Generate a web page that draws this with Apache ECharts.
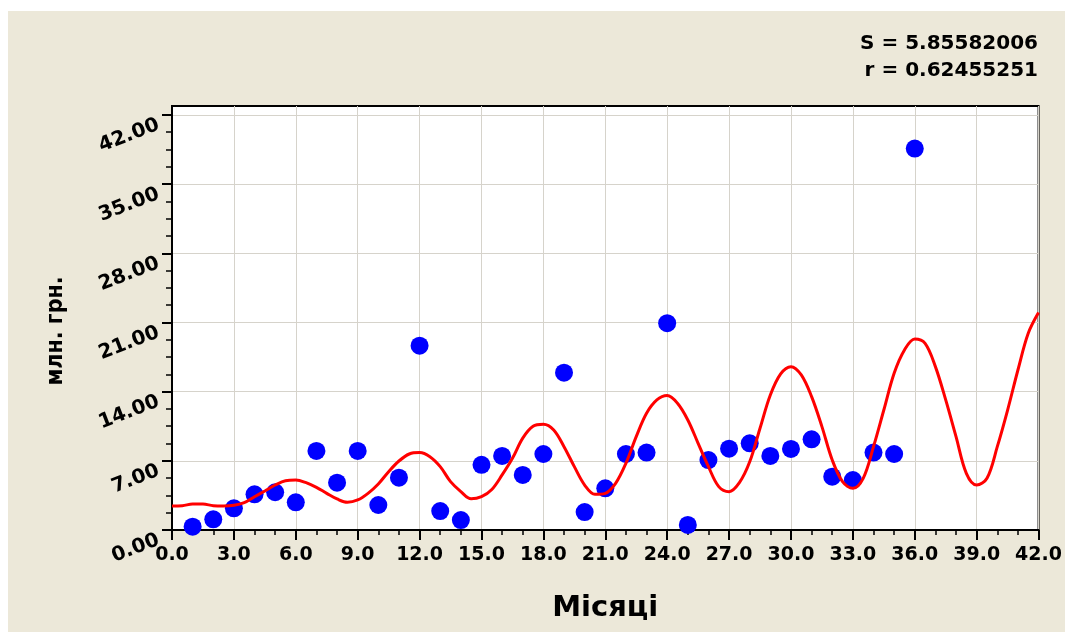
<!DOCTYPE html>
<html>
<head>
<meta charset="utf-8">
<script src="https://cdn.jsdelivr.net/npm/echarts@6/dist/echarts.min.js"></script>
<style>
html,body{margin:0;padding:0;background:#ffffff;}
#chart{position:absolute;left:8px;top:11px;width:1057px;height:621px;background:#ece8d9;}
</style>
</head>
<body>
<div id="chart"></div>
<script>
// Observed data: monthly values (млн. грн.)
const months = [1,2,3,4,5,6,7,8,9,10,11,12,13,14,15,16,17,18,19,20,21,22,23,24,25,26,27,28,29,30,31,32,33,34,35,36];
const sales = [0.33,1.08,2.19,3.61,3.82,2.80,8.00,4.79,8.00,2.53,5.29,18.65,1.92,1.01,6.60,7.49,5.57,7.69,15.92,1.82,4.22,7.69,7.83,20.92,0.51,7.08,8.23,8.77,7.49,8.20,9.18,5.40,5.06,7.83,7.69,38.59];

// Fitted model curve
const curveX = [0,0.5,1,1.5,2,2.5,3,3.5,4,4.5,5,5.5,6,6.5,7,7.5,8,8.5,9,9.5,10,10.5,11,11.5,12,12.5,13,13.5,14,14.5,15,15.5,16,16.5,17,17.5,18,18.5,19,19.5,20,20.5,21,21.5,22,22.5,23,23.5,24,24.5,25,25.5,26,26.5,27,27.5,28,28.5,29,29.5,30,30.5,31,31.5,32,32.5,33,33.5,34,34.5,35,35.5,36,36.5,37,37.5,38,38.5,39,39.5,40,40.5,41,41.5,42];
const curveY = [2.43,2.46,2.63,2.63,2.46,2.43,2.50,2.77,3.37,3.95,4.55,4.99,5.06,4.79,4.32,3.71,3.14,2.80,3.04,3.71,4.66,5.90,6.98,7.69,7.83,7.42,6.41,4.89,3.88,3.15,3.37,4.10,5.57,7.25,9.30,10.50,10.70,10.12,8.43,6.41,4.55,3.61,3.71,4.72,6.75,9.45,11.81,13.16,13.60,12.82,11.13,8.77,6.41,4.39,3.88,4.79,6.90,10.30,13.66,15.80,16.53,15.69,13.49,10.46,7.08,4.89,4.22,5.23,8.43,12.14,15.86,18.22,19.33,18.89,16.53,13.16,9.45,5.73,4.55,5.23,8.43,12.14,16.19,19.90,22.00];

// Axis ticks
const yMajorTicks = [0,7,14,21,28,35,42];
const yMinorTicks = [0,1.75,3.5,5.25,7,8.75,10.5,12.25,14,15.75,17.5,19.25,21,22.75,24.5,26.25,28,29.75,31.5,33.25,35,36.75,38.5,40.25,42];

const statLines = ['S = 5.85582006', 'r = 0.62455251'];
const xTitle = 'Місяці';
const yTitle = 'млн. грн.';

const FONT = 'DejaVu Sans';
const chart = echarts.init(document.getElementById('chart'), null, {renderer: 'canvas'});

const scatterData = months.map((m, i) => [m, sales[i]]);
const curveData = curveX.map((x, i) => [x, curveY[i]]);

chart.setOption({
  animation: false,
  backgroundColor: '#ece8d9',
  title: [
    {text: statLines[0], right: 27, top: 23, padding: 0, textStyle: {fontFamily: FONT, fontWeight: 'bold', fontSize: 20, color: '#000'}},
    {text: statLines[1], right: 27, top: 50, padding: 0, textStyle: {fontFamily: FONT, fontWeight: 'bold', fontSize: 20, color: '#000'}}
  ],
  grid: {
    left: 164, right: 23, top: 95, bottom: 102,
    show: true, backgroundColor: '#ffffff', borderColor: '#000000', borderWidth: 2
  },
  xAxis: {
    type: 'value', min: 0, max: 42, interval: 3,
    name: xTitle, nameLocation: 'middle', nameGap: 64,
    nameTextStyle: {fontFamily: FONT, fontWeight: 'bold', fontSize: 29, color: '#000'},
    axisLine: {show: true, lineStyle: {color: '#000', width: 2}},
    axisTick: {show: true, length: 10, lineStyle: {color: '#000', width: 2}},
    minorTick: {show: true, splitNumber: 3, length: 5, lineStyle: {color: '#000', width: 1.5}},
    axisLabel: {margin: 16, fontFamily: FONT, fontWeight: 'bold', fontSize: 19, color: '#000',
      formatter: v => v.toFixed(1)},
    splitLine: {show: true, lineStyle: {color: '#d6d3cb', width: 1}}
  },
  yAxis: [
    {
      type: 'value', min: 0, max: 42.9, position: 'left',
      axisLine: {show: true, lineStyle: {color: '#000', width: 2}},
      axisTick: {show: true, length: 6, customValues: yMinorTicks, lineStyle: {color: '#000', width: 1.5}},
      axisLabel: {show: false},
      splitLine: {show: false}
    },
    {
      type: 'value', min: 0, max: 42.9, position: 'left', offset: 0,
      name: yTitle, nameLocation: 'middle', nameGap: 104, nameRotate: 90,
      nameTextStyle: {fontFamily: "'Liberation Sans Narrow', 'DejaVu Sans Condensed', sans-serif", fontWeight: 'bold', fontSize: 23, color: '#000', padding: [0, 26, 0, 0]},
      axisLine: {show: false},
      axisTick: {show: true, length: 10, customValues: yMajorTicks, lineStyle: {color: '#000', width: 2}},
      axisLabel: {show: true, customValues: yMajorTicks, rotate: 21, margin: 17,
        align: 'right', verticalAlign: 'top',
        fontFamily: FONT, fontWeight: 'bold', fontSize: 20, color: '#000',
        formatter: v => Number(v).toFixed(2)},
      splitLine: {show: true, lineStyle: {color: '#d6d3cb', width: 1}}
    }
  ],
  series: [
    {
      type: 'scatter', data: scatterData, xAxisIndex: 0, yAxisIndex: 0,
      symbol: 'circle', symbolSize: 18,
      itemStyle: {color: '#0000ff', opacity: 1}, z: 2
    },
    {
      type: 'line', data: curveData, xAxisIndex: 0, yAxisIndex: 0,
      showSymbol: false, smooth: 0.35,
      lineStyle: {color: '#ff0000', width: 3}, z: 3
    }
  ]
});
</script>
</body>
</html>
